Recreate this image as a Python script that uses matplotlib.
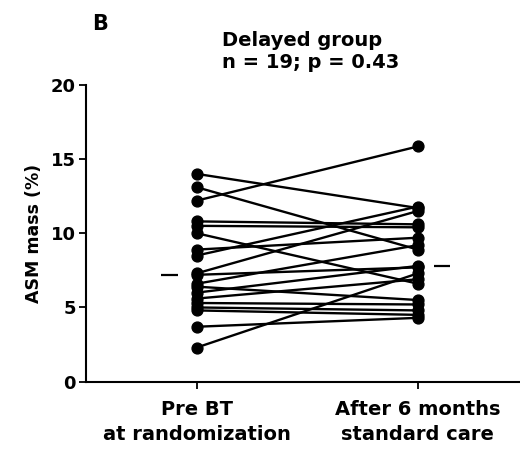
import matplotlib
matplotlib.use("Agg")
import matplotlib.pyplot as plt
import numpy as np

plt.rcParams['font.family'] = ['DejaVu Sans']

groups = ["Pre BT\nat randomization", "After 6 months\nstandard care"]
pre = [14.0, 13.1, 12.2, 10.8, 10.5, 10.0, 8.9, 8.5, 7.3, 7.2,
       6.6, 6.4, 6.0, 5.6, 5.3, 5.0, 4.8, 3.7, 2.3]
post = [11.7, 8.9, 15.85, 10.6, 10.4, 6.6, 9.7, 11.8, 11.5, 7.7,
        9.2, 5.5, 7.8, 6.9, 5.2, 4.8, 4.5, 4.3, 7.3]
yticks = [0, 5, 10, 15, 20]
title_lines = ["Delayed group", "n = 19; p = 0.43"]
panel = "B"
ylabel = "ASM mass (%)"

fig = plt.figure(figsize=(5.2, 4.49), dpi=100)
ax = fig.add_axes([0.165, 0.150, 0.835, 0.661])

for a, b in zip(pre, post):
    ax.plot([0, 1], [a, b], color='black', lw=1.7, marker='o', ms=7.8,
            mfc='black', mec='black', solid_capstyle='round', zorder=3)

ax.hlines(np.median(pre), -0.16, -0.085, color='black', lw=1.6)
ax.hlines(np.median(post), 1.075, 1.145, color='black', lw=1.6)

ax.set_ylim(0, 20)
ax.set_xlim(-0.502, 1.462)
ax.set_yticks(yticks)
ax.set_xticks([0, 1])
ax.set_xticklabels(groups, fontsize=14, fontweight='bold', linespacing=1.4)
ax.tick_params(axis='y', labelsize=13, width=1.3, length=5, direction='out', pad=2)
ax.tick_params(axis='x', width=1.3, length=5, direction='out', pad=8)
for lab in ax.get_yticklabels():
    lab.set_fontweight('bold')
ax.set_ylabel(ylabel, fontsize=12.5, fontweight='bold', labelpad=6)
for s in ['top', 'right']:
    ax.spines[s].set_visible(False)
for s in ['left', 'bottom']:
    ax.spines[s].set_linewidth(1.5)

fig.text(100 / 520, 1 - 24 / 449, panel, fontsize=15, fontweight='bold',
         ha='center', va='center')
fig.text(222 / 520, 1 - 40 / 449, title_lines[0], fontsize=14, fontweight='bold',
         ha='left', va='center')
fig.text(222 / 520, 1 - 63 / 449, title_lines[1], fontsize=14, fontweight='bold',
         ha='left', va='center')

fig.savefig("out.png", dpi=100)
